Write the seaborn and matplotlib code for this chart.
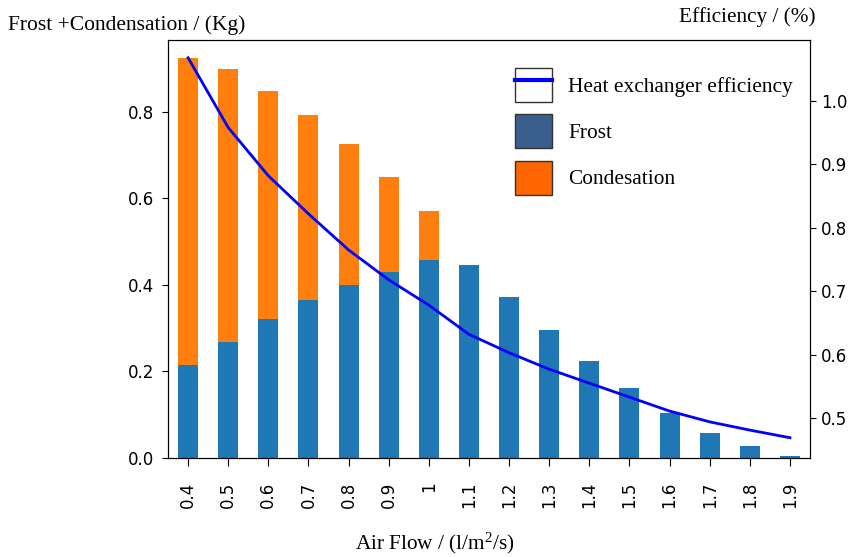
import numpy as np
import pandas as pd
import matplotlib
matplotlib.use('Agg')
import matplotlib.pyplot as plt
import seaborn as sns
from matplotlib.patches import Patch
from matplotlib.lines import Line2D

# values
air_flow = ['0.4', '0.5', '0.6', '0.7', '0.8', '0.9', '1', '1.1',
            '1.2', '1.3', '1.4', '1.5', '1.6', '1.7', '1.8', '1.9']
frost = [0.215, 0.268, 0.321, 0.366, 0.400, 0.431, 0.458, 0.445,
         0.371, 0.295, 0.225, 0.161, 0.103, 0.058, 0.027, 0.005]
condensation = [0.709, 0.631, 0.528, 0.426, 0.325, 0.218, 0.112, 0.0,
                0.0, 0.0, 0.0, 0.0, 0.0, 0.0, 0.0, 0.0]
efficiency = [1.068, 0.958, 0.882, 0.822, 0.765, 0.718, 0.678, 0.632,
              0.603, 0.577, 0.555, 0.533, 0.511, 0.494, 0.481, 0.469]

df = pd.DataFrame({'air_flow': air_flow, 'frost': frost,
                   'condensation': condensation, 'efficiency': efficiency})
df['total'] = df['frost'] + df['condensation']

plt.rcParams['font.family'] = ['DejaVu Sans']
plt.rcParams['mathtext.fontset'] = 'custom'
plt.rcParams['mathtext.rm'] = 'Liberation Serif'
plt.rcParams['mathtext.it'] = 'Liberation Serif'
serif = ['Liberation Serif', 'DejaVu Serif']

fig = plt.figure(figsize=(8.55, 5.57), dpi=100)
ax = fig.add_axes([0.1965, 0.1777, 0.7509, 0.7505])

# stacked bars: total (orange) underneath, frost (blue) drawn over it
sns.barplot(data=df, x='air_flow', y='total', color='#ff7f0e', saturation=1,
            width=0.5, linewidth=0, errorbar=None, ax=ax)
sns.barplot(data=df, x='air_flow', y='frost', color='#1f77b4', saturation=1,
            width=0.5, linewidth=0, errorbar=None, ax=ax)
ax.set_ylim(0, 0.966)
ax.set_xlabel('')
ax.set_ylabel('')
ax.tick_params(axis='x', labelrotation=90, labelsize=12, length=6, pad=11)
ax.tick_params(axis='y', labelsize=12, length=4, pad=6)

ax2 = ax.twinx()
sns.lineplot(x=np.arange(len(df)), y=df['efficiency'], color='blue', lw=2, ax=ax2)
ax2.set_ylim(0.437, 1.096)
ax2.set_yticks([0.5, 0.6, 0.7, 0.8, 0.9, 1.0])
ax2.set_ylabel('')
ax2.tick_params(axis='y', labelsize=12, length=4, pad=4)
ax.set_xlim(-0.5, len(df) - 0.5)

fig.text(8 / 855, 1 - 25 / 557, 'Frost +Condensation / (Kg)', family=serif,
         fontsize=15.5, va='center', ha='left')
fig.text(747 / 855, 1 - 17 / 557, 'Efficiency / (%)', family=serif,
         fontsize=15.3, va='center', ha='center')
fig.text(435 / 855, 1 - 543 / 557, 'Air Flow / (l/m$^2$/s)', family=serif,
         fontsize=15.3, va='center', ha='center')

handles = [(Patch(facecolor='white', edgecolor='#333333'),
            Line2D([], [], color='blue', lw=3)),
           Patch(facecolor='#3a5f8f', edgecolor='#333333'),
           Patch(facecolor='#ff6600', edgecolor='#333333')]
labels = ['Heat exchanger efficiency', 'Frost', 'Condesation']
ax2.legend(handles, labels, loc='upper left', bbox_to_anchor=(496 / 855, 1 - 48.5 / 557),
           bbox_transform=fig.transFigure, frameon=False,
           prop={'family': serif, 'size': 15.4}, handlelength=1.73,
           handleheight=2.07, labelspacing=0.58, handletextpad=0.75)

fig.savefig('out.png', dpi=100)
